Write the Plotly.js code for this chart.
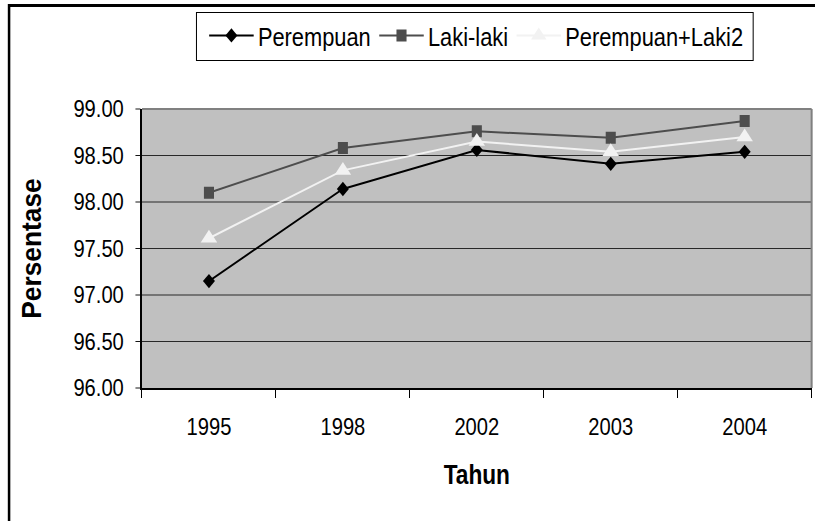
<!DOCTYPE html>
<html><head><meta charset="utf-8">
<script src="https://cdn.plot.ly/plotly-3.0.1.min.js"></script>
<style>
html,body{margin:0;padding:0;background:#fff;overflow:hidden;width:815px;height:521px;}
#chart{width:970px;height:521px;transform:scaleX(0.840206);transform-origin:0 0;}
</style>
</head><body><div id="chart"></div><script>
// ---- data ----
const years = ['1995', '1998', '2002', '2003', '2004'];
const perempuan = [97.15, 98.14, 98.56, 98.41, 98.54];
const lakiLaki = [98.10, 98.58, 98.76, 98.69, 98.87];
const gabungan = [97.61, 98.34, 98.65, 98.54, 98.70];
const seriesNames = ['Perempuan', 'Laki-laki', 'Perempuan+Laki2'];
const yTickVals = [96, 96.5, 97, 97.5, 98, 98.5, 99];

// ---- layout helpers ----
// The chart is drawn 970px wide and squeezed horizontally to 815px (condensed look of the original).
const S = 815 / 970;
const L = 142, R = 812, T = 109, B = 388;          // plot area in final screen pixels
const px = x => (x - L) / (R - L);                // screen px -> paper fraction
const py = y => (B - y) / (B - T);
const FONT = "'Liberation Sans', Arial, sans-serif";

const traces = [
  {x: years, y: perempuan, name: seriesNames[0], type: 'scatter', mode: 'lines+markers',
   line: {color: '#000000', width: 2}, marker: {symbol: 'diamond', size: 11, color: '#000000'}},
  {x: years, y: lakiLaki, name: seriesNames[1], type: 'scatter', mode: 'lines+markers',
   line: {color: '#4d4d4d', width: 2}, marker: {symbol: 'square', size: 12, color: '#4d4d4d'}},
  {x: years, y: gabungan, name: seriesNames[2], type: 'scatter', mode: 'lines+markers',
   line: {color: '#f2f2f2', width: 2}, marker: {symbol: 'triangle-up', size: 17, color: '#f2f2f2'}}
];

const layout = {
  width: 970, height: 521,
  margin: {l: L / S, r: 970 - R / S, t: T, b: 521 - B, pad: 0},
  paper_bgcolor: '#ffffff',
  plot_bgcolor: '#c0c0c0',
  font: {family: FONT, size: 24, color: '#000'},
  showlegend: true,
  legend: {
    orientation: 'h', x: px(205), y: py(35.5), xanchor: 'left', yanchor: 'middle',
    bgcolor: 'rgba(0,0,0,0)', borderwidth: 0, font: {family: FONT, size: 26, color: '#000'},
    itemwidth: 53, tracegroupgap: 0
  },
  xaxis: {
    type: 'category', range: [-0.5, 4.5], tickmode: 'array', tickvals: years, ticktext: years,
    tickson: 'boundaries', ticks: 'outside', ticklen: 8, tickcolor: '#000', tickwidth: 1.2,
    showline: true, linecolor: '#000', linewidth: 1.5, showgrid: false, zeroline: false,
    tickfont: {family: FONT, size: 24, color: '#000'}, ticklabelstandoff: 17,
    title: {text: 'Tahun', font: {family: FONT, size: 27, color: '#000', weight: 'bold'}, standoff: 26},
    automargin: false, fixedrange: true
  },
  yaxis: {
    range: [96, 99], tickmode: 'array', tickvals: yTickVals, tickformat: '.2f',
    ticks: 'outside', ticklen: 6, tickcolor: '#000', tickwidth: 1,
    showline: true, linecolor: '#000', linewidth: 1.8,
    showgrid: true, gridcolor: '#1a1a1a', gridwidth: 1, zeroline: false,
    tickfont: {family: FONT, size: 24, color: '#000'}, ticklabelstandoff: 9,
    title: {text: 'Persentase', font: {family: FONT, size: 28, color: '#000', weight: 'bold'}, standoff: 30},
    automargin: false, fixedrange: true
  },
  shapes: [
    // plot-area grey border top and right
    {type: 'line', xref: 'paper', yref: 'paper', x0: 0, x1: 1, y0: 1, y1: 1, line: {color: '#808080', width: 2}, layer: 'above'},
    {type: 'line', xref: 'paper', yref: 'paper', x0: 1, x1: 1, y0: 0, y1: 1, line: {color: '#808080', width: 2.4}, layer: 'above'},
    // legend box
    {type: 'rect', xref: 'paper', yref: 'paper', x0: px(196.5), x1: px(753.5), y0: py(60.5), y1: py(12.5),
     line: {color: '#000', width: 1.2}, fillcolor: 'rgba(0,0,0,0)', layer: 'above'},
    // outer chart border (partially cropped)
    {type: 'rect', xref: 'paper', yref: 'paper', x0: px(9), x1: px(900), y0: py(600), y1: py(5.5),
     line: {color: '#000', width: 3}, fillcolor: 'rgba(0,0,0,0)', layer: 'above'}
  ]
};

Plotly.newPlot('chart', traces, layout, {displayModeBar: false, staticPlot: true}).then(gd => {
  // make the rotated y-axis title a bit heavier / shorter, like the original's rendering
  const t = gd.querySelector('.ytitle');
  if (t) {
    const x = t.getAttribute('x'), y = t.getAttribute('y');
    const base = t.getAttribute('transform') || '';
    t.setAttribute('transform', base + ' translate(' + x + ',' + y + ') scale(0.94,1.15) translate(' + (-x) + ',' + (-y) + ')');
  }
});
</script></body></html>
